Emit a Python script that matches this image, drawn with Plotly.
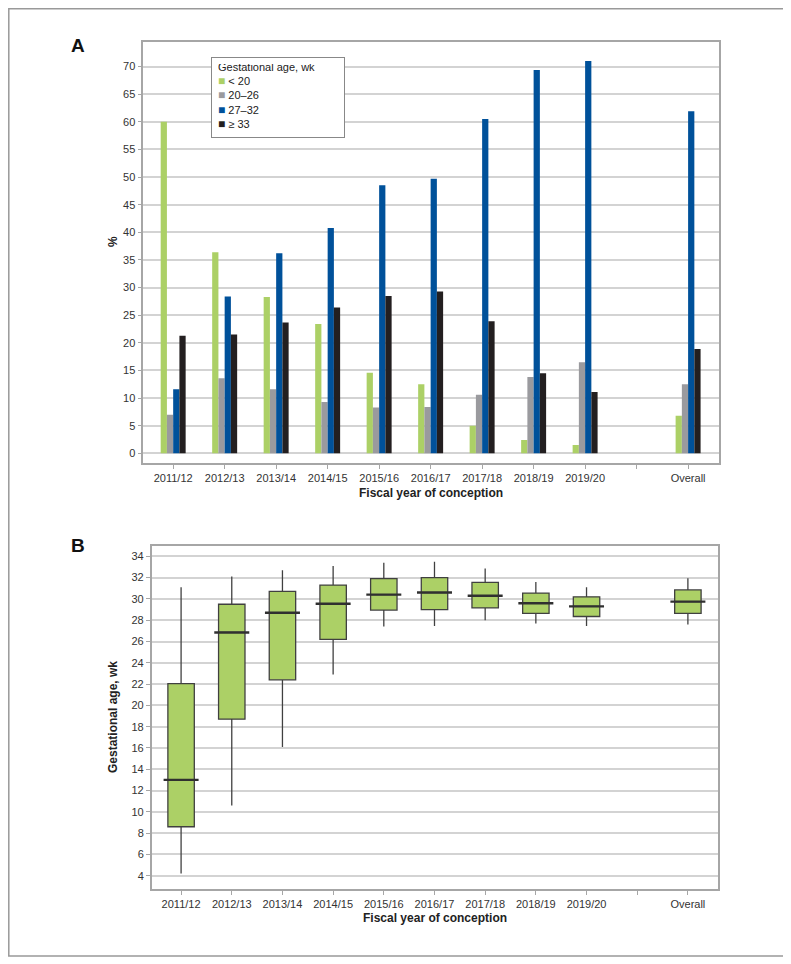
import plotly.graph_objects as go

# data
years = ["2011/12", "2012/13", "2013/14", "2014/15", "2015/16", "2016/17",
         "2017/18", "2018/19", "2019/20", " ", "Overall"]

# panel A: % of pregnancies by gestational age group
pct_lt20 = [60.0, 36.4, 28.3, 23.4, 14.6, 12.5, 5.0, 2.4, 1.5, None, 6.8]
pct_20_26 = [7.0, 13.6, 11.6, 9.3, 8.3, 8.4, 10.6, 13.8, 16.5, None, 12.5]
pct_27_32 = [11.6, 28.4, 36.2, 40.8, 48.5, 49.7, 60.5, 69.4, 71.0, None, 61.9]
pct_ge33 = [21.3, 21.5, 23.7, 26.4, 28.5, 29.3, 23.9, 14.5, 11.1, None, 18.9]

# panel B: gestational age (wk) distribution
box_x = ["2011/12", "2012/13", "2013/14", "2014/15", "2015/16", "2016/17",
         "2017/18", "2018/19", "2019/20", "Overall"]
ga_low = [4.2, 10.6, 16.1, 22.9, 27.4, 27.45, 28.0, 27.7, 27.45, 27.6]
ga_q1 = [8.6, 18.7, 22.4, 26.2, 28.95, 29.0, 29.15, 28.65, 28.35, 28.65]
ga_med = [13.0, 26.85, 28.7, 29.55, 30.4, 30.6, 30.3, 29.6, 29.3, 29.75]
ga_q3 = [22.05, 29.5, 30.7, 31.3, 31.9, 32.0, 31.55, 30.55, 30.2, 30.85]
ga_high = [31.1, 32.1, 32.7, 33.1, 33.4, 33.5, 32.85, 31.6, 31.1, 31.95]

# the page body has an 8px margin, so the figure is shrunk and shifted by it
OFF = 8
W, H = 791 - OFF, 964 - OFF


def px(x):
    return (x - OFF) / W


def py(y):
    return 1 - (y - OFF) / H


FONT = "Liberation Sans, Arial, Helvetica, sans-serif"
AXIS_GREY = "#a6a6a6"
GRID = "#d3d3d3"

fig = go.Figure()

series = [
    ("&lt; 20", pct_lt20, "#acd066"),
    ("20\u201326", pct_20_26, "#9a9a9e"),
    ("27\u201332", pct_27_32, "#00519a"),
    ("\u2265 33", pct_ge33, "#231f20"),
]
for name, vals, col in series:
    fig.add_trace(go.Bar(x=years, y=vals, name=name, marker_color=col,
                         marker_line_width=0, showlegend=False,
                         xaxis="x", yaxis="y"))

fig.add_trace(go.Box(
    x=box_x, q1=ga_q1, median=ga_med, q3=ga_q3,
    lowerfence=ga_low, upperfence=ga_high,
    fillcolor="#acd066", line=dict(color="#404040", width=1.3),
    whiskerwidth=0, showlegend=False, hoverinfo="skip",
    xaxis="x2", yaxis="y2",
))
# heavier median bar, as in the original
fig.add_trace(go.Scatter(
    x=box_x, y=ga_med, mode="markers", showlegend=False,
    marker=dict(symbol="line-ew", size=25, line=dict(color="#303030", width=2.4)),
    xaxis="x2", yaxis="y2",
))

tick_font = dict(family=FONT, size=11, color="#333333")
title_font = dict(family=FONT, size=12, color="#222222")

common_x = dict(type="category", categoryorder="array", categoryarray=years,
                showline=True, mirror=True, linecolor=AXIS_GREY, linewidth=1.5,
                ticks="outside", ticklen=4, tickcolor=AXIS_GREY,
                tickfont=tick_font, showgrid=False, automargin=False,
                range=[-0.58, 10.6])
common_y = dict(showline=True, mirror=True, linecolor=AXIS_GREY, linewidth=1.5,
                ticks="outside", ticklen=4, tickcolor=AXIS_GREY,
                tickfont=tick_font, showgrid=True, gridcolor=GRID, gridwidth=1.5,
                zeroline=False, automargin=False)

# legend drawn as a bordered text box so the rows sit as tightly as the original
legend_rows = ["Gestational age, wk"] + [
    f"<span style='color:{col};font-size:12px'>\u25a0</span>\u00a0{name}"
    for name, _, col in series
]

annotations = [
    dict(text="<b>A</b>", x=px(78), y=py(45),
         font=dict(family=FONT, size=19, color="#111")),
    dict(text="<b>B</b>", x=px(78), y=py(545.5),
         font=dict(family=FONT, size=19, color="#111")),
    dict(text="<b>%</b>", x=px(113), y=py(242), textangle=-90, font=title_font),
    dict(text="<b>Gestational age, wk</b>", x=px(113), y=py(717),
         textangle=-90, font=title_font),
    dict(text="<b>Fiscal year of conception</b>", x=px(431), y=py(493),
         font=title_font),
    dict(text="<b>Fiscal year of conception</b>", x=px(435), y=py(918),
         font=title_font),
]
for a in annotations:
    a.update(xanchor="center", yanchor="middle")
annotations.append(dict(
    text="<br>".join(legend_rows), x=px(210.7), y=py(57.3),
    xanchor="left", yanchor="top", align="left",
    width=120, height=67, borderpad=6, valign="bottom",
    bordercolor="#888888", borderwidth=1, bgcolor="white",
    font=dict(family=FONT, size=11, color="#222"),
))
for a in annotations:
    a.update(xref="paper", yref="paper", showarrow=False)

fig.update_layout(
    width=W, height=H,
    margin=dict(l=0, r=0, t=0, b=0),
    paper_bgcolor="white", plot_bgcolor="white",
    font=dict(family=FONT),
    barmode="group", bargap=0.515, bargroupgap=0,
    boxgap=0.255,
    xaxis=dict(common_x, domain=[px(143.3), px(719)], anchor="y"),
    yaxis=dict(common_y, domain=[py(463.3), py(41.7)], anchor="x",
               range=[-1.8, 74.5], dtick=5),
    xaxis2=dict(common_x, domain=[px(151.7), px(718.3)], anchor="y2"),
    yaxis2=dict(common_y, domain=[py(889), py(545.7)], anchor="x2",
                range=[2.75, 35.0], dtick=2),
    annotations=annotations,
    shapes=[dict(type="rect", xref="paper", yref="paper",
                 x0=0.8 / W, x1=px(788), y0=py(956), y1=1 - 0.8 / H,
                 line=dict(color="#999999", width=1.5))],
)

fig.write_html("out.html")
